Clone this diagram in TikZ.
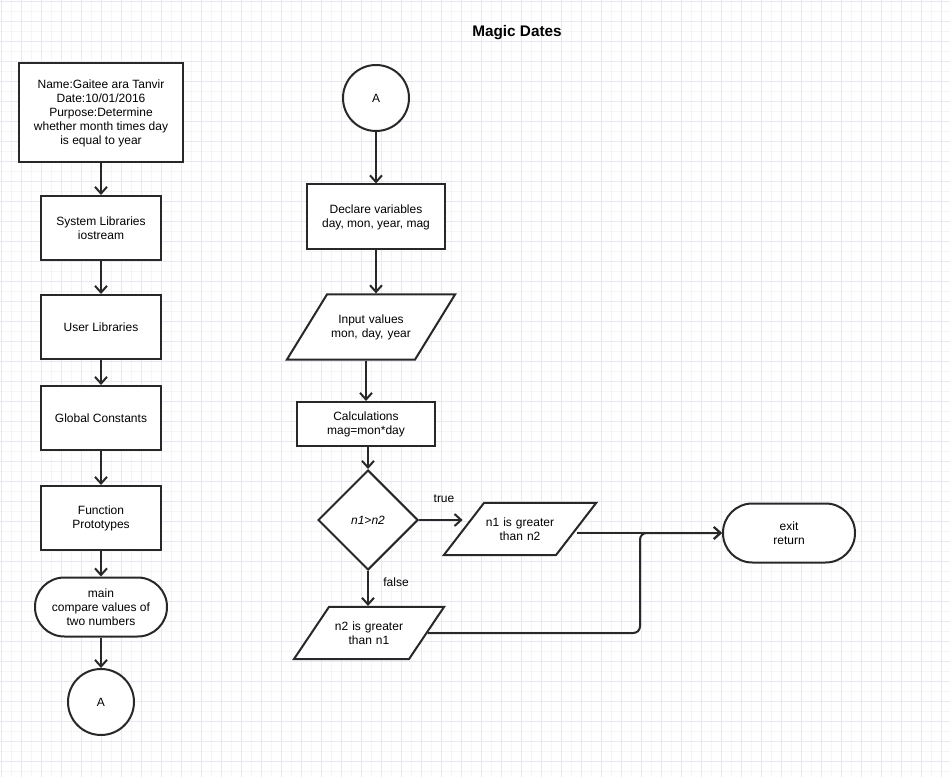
\documentclass[tikz,border=0pt]{standalone}
\usepackage{fontspec}
\setmainfont{Liberation Sans}
\usetikzlibrary{arrows.meta,positioning,calc,shapes.geometric}
\definecolor{gridc}{RGB}{232,232,240}
\definecolor{gridm}{RGB}{244,244,249}
\definecolor{linec}{RGB}{40,40,40}
\tikzset{box/.style={draw=linec, line width=1.5pt, fill=white, align=center, font=\fontsize{9}{10.5}\selectfont, inner sep=2pt}}
\tikzset{term/.style={box, rounded corners=22pt}}
\tikzset{conn/.style={box, circle, minimum size=49.5pt}}
\tikzset{io/.style={box, trapezium, inner xsep=0pt, inner ysep=11pt}}
\tikzset{arr/.style={draw=linec, line width=1.5pt, -{Straight Barb[length=5pt,width=9pt]}}}
\tikzset{lbl/.style={font=\fontsize{9}{10.5}\selectfont}}

\begin{document}
\begin{tikzpicture}[x=0.75pt, y=-0.75pt]
		\useasboundingbox (0,0) rectangle (950,777);
		\fill[white] (0,0) rectangle (950,777);
		\foreach \g in {11,31,...,950}{\draw[gridm, line width=0.5pt] (\g,0) -- (\g,777);}
		\foreach \g in {11,31,...,777}{\draw[gridm, line width=0.5pt] (0,\g) -- (950,\g);}
		\foreach \g in {1,21,...,950}{\draw[gridc, line width=0.6pt] (\g,0) -- (\g,777);}
		\foreach \g in {1,21,...,777}{\draw[gridc, line width=0.6pt] (0,\g) -- (950,\g);}
		
		\node[font=\bfseries\fontsize{11.5}{13}\selectfont] (title) at (517,33) {Magic Dates};
		
		% left column
		\node[box, minimum width=123pt, minimum height=74.25pt] (info) at (101,113)
			{Name:Gaitee ara Tanvir\\Date:10/01/2016\\Purpose:Determine\\whether month times day\\is equal to year};
		\node[box, minimum width=90pt, minimum height=48pt] (syslib) at (101,228) {System Libraries\\iostream};
		\node[box, minimum width=90pt, minimum height=48pt] (usrlib) at (101,327) {User Libraries};
		\node[box, minimum width=90pt, minimum height=48pt] (glob) at (101,418) {Global Constants};
		\node[box, minimum width=90pt, minimum height=48pt] (proto) at (101,518) {Function\\Prototypes};
		\node[term, minimum width=99pt, minimum height=44.25pt] (main) at (101,607) {main\\compare values of\\two numbers};
		\node[conn] (A1) at (101,702) {A};
		
		\draw[arr] (info) -- (syslib);
		\draw[arr] (syslib) -- (usrlib);
		\draw[arr] (usrlib) -- (glob);
		\draw[arr] (glob) -- (proto);
		\draw[arr] (proto) -- (main);
		\draw[arr] (main) -- (A1);
		
		% middle column
		\node[conn] (A2) at (376,98) {A};
		\node[box, minimum width=103.5pt, minimum height=48.75pt] (decl) at (376,217) {Declare variables\\day, mon, year, mag};
		\node[io, trapezium left angle=58.4, trapezium right angle=121.6, text width=66pt, inner ysep=15pt] (input) at (371,327) {Input values\\mon, day, year};
		\node[box, minimum width=103.5pt, minimum height=33pt] (calc) at (366,424) {Calculations\\mag=mon*day};
		\node[box, diamond, minimum size=75pt, inner sep=0pt, font=\itshape\fontsize{9}{10.5}\selectfont] (cmp) at (368,520) {n1>n2};
		\node[io, trapezium left angle=52.4, trapezium right angle=127.6, text width=54pt] (n1) at (520,529) {n1 is greater\\than n2};
		\node[io, trapezium left angle=56.1, trapezium right angle=123.9, text width=60pt] (n2) at (369,633) {n2 is greater\\than n1};
		\node[term, minimum width=99pt, minimum height=44.25pt] (exit) at (789,533) {exit\\return};
		
		\node[lbl] (tlbl) at (444,499) {true};
		\node[lbl] (flbl) at (396,582) {false};
		
		\draw[arr] (A2) -- (decl);
		\draw[arr] (decl) -- (decl |- input.north);
		\draw[arr] (input.south -| calc) -- (calc);
		\draw[arr] (calc.south -| cmp) -- (cmp);
		\draw[arr] (cmp.east) -- (cmp.east -| n1.west);
		\draw[arr] (cmp.south) -- (cmp.south |- n2.north);
		\coordinate (join) at (640,583);
		\draw[arr] (n1.east |- exit.west) -- (exit.west);
		\draw[arr, rounded corners=5pt] (n2.east) -| (join) |- (exit.west);
	\end{tikzpicture}
\end{document}
